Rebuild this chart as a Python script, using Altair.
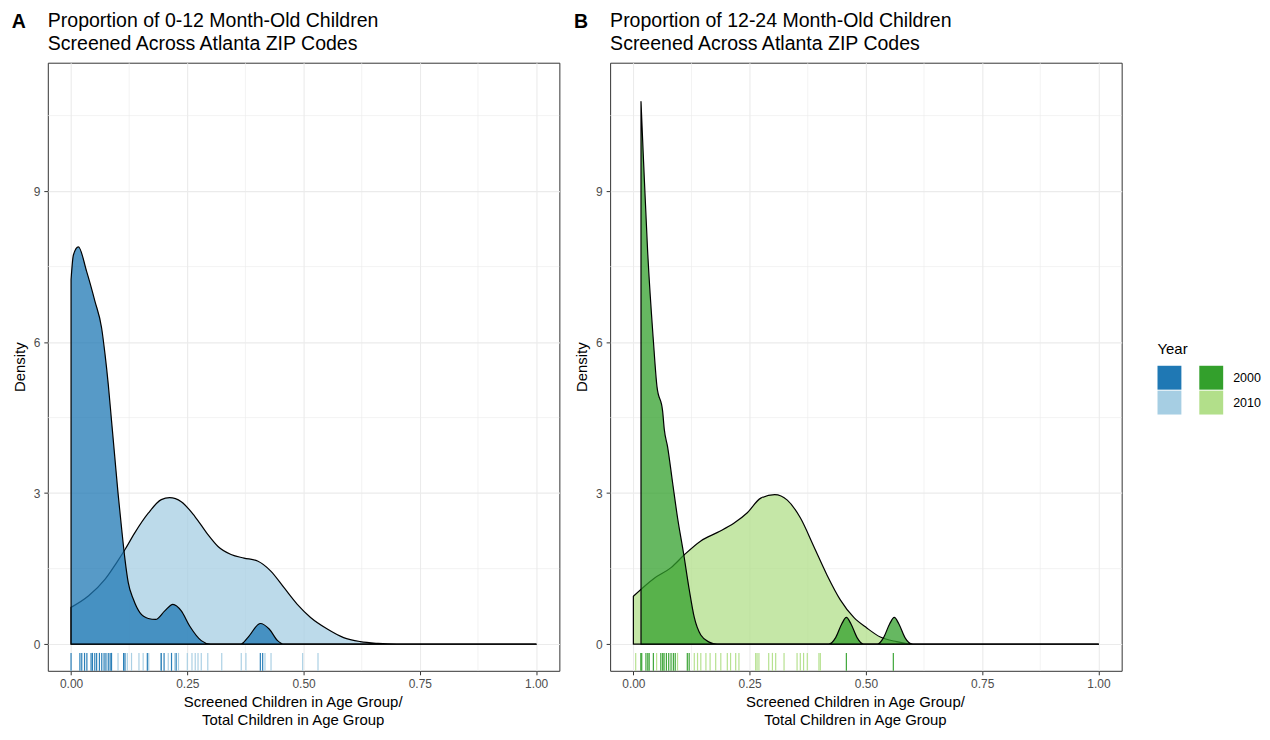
import altair as alt
import pandas as pd

FONT = "Liberation Sans"

# ---------------- data ----------------
# Panel A: 0-12 month-old children
a2000_x = [0.0, 0.005, 0.0157, 0.0336, 0.0514, 0.0657, 0.073, 0.080, 0.087, 0.094, 0.101, 0.109,
           0.116, 0.123, 0.134, 0.148, 0.166, 0.182, 0.2015, 0.219, 0.237, 0.255, 0.28, 0.30,
           0.365, 0.38, 0.407, 0.426, 0.444, 0.458, 1.0]
a2000_d = [7.24, 7.73, 7.89, 7.40, 6.81, 6.28, 5.76, 5.16, 4.44, 3.72, 3.00, 2.27,
           1.68, 1.22, 0.89, 0.625, 0.51, 0.49, 0.66, 0.79, 0.66, 0.36, 0.07, 0.0,
           0.0, 0.13, 0.41, 0.30, 0.07, 0.0, 0.0]
a2010_x = [0.0, 0.0378, 0.0733, 0.098, 0.116, 0.137, 0.166, 0.194, 0.212, 0.237, 0.266, 0.294,
           0.316, 0.344, 0.372, 0.401, 0.4295, 0.458, 0.4865, 0.515, 0.551, 0.586, 0.622, 0.66,
           0.70, 1.0]
a2010_d = [0.73, 0.96, 1.29, 1.62, 1.88, 2.21, 2.60, 2.87, 2.91, 2.83, 2.54, 2.18,
           1.94, 1.78, 1.71, 1.65, 1.45, 1.12, 0.79, 0.53, 0.30, 0.13, 0.05, 0.015,
           0.0, 0.0]
a2000_rug = [0.0, 0.019, 0.023, 0.029, 0.034, 0.043, 0.046, 0.051, 0.055, 0.061, 0.066, 0.071,
             0.075, 0.080, 0.084, 0.087, 0.113, 0.116, 0.164, 0.194, 0.200, 0.216, 0.226,
             0.407, 0.412]
a2010_rug = [0.101, 0.121, 0.13, 0.146, 0.155, 0.167, 0.193, 0.209, 0.223, 0.231, 0.25, 0.26,
             0.267, 0.273, 0.28, 0.294, 0.324, 0.366, 0.376, 0.417, 0.43, 0.498, 0.531]

# Panel B: 12-24 month-old children
b2000_x = [0.0164, 0.022, 0.0307, 0.0429, 0.0507, 0.0629, 0.0664, 0.0736, 0.0843, 0.095,
           0.108, 0.12, 0.131, 0.145, 0.163, 0.18, 0.42, 0.435, 0.448, 0.458, 0.468, 0.481,
           0.495, 0.525, 0.538, 0.551, 0.561, 0.571, 0.584, 0.60, 1.0]
b2000_d = [10.78, 9.57, 7.80, 6.04, 5.12, 4.63, 4.27, 3.92, 3.21, 2.51,
           1.80, 1.09, 0.53, 0.18, 0.04, 0.0, 0.0, 0.13, 0.40, 0.53, 0.40, 0.13,
           0.0, 0.0, 0.13, 0.40, 0.53, 0.40, 0.13, 0.0, 0.0]
b2010_x = [0.0, 0.045, 0.081, 0.109, 0.145, 0.181, 0.216, 0.245, 0.274, 0.304, 0.331, 0.359,
           0.388, 0.416, 0.445, 0.474, 0.502, 0.531, 0.566, 0.602, 1.0]
b2010_d = [0.95, 1.31, 1.52, 1.77, 2.05, 2.22, 2.40, 2.61, 2.90, 2.97, 2.86, 2.51,
           1.94, 1.38, 0.88, 0.53, 0.32, 0.14, 0.05, 0.0, 0.0]
b2000_rug = [0.016, 0.018, 0.027, 0.031, 0.034, 0.043, 0.059, 0.063, 0.066, 0.071, 0.076,
             0.081, 0.086, 0.09, 0.116, 0.12, 0.458, 0.559]
b2010_rug = [0.005, 0.05, 0.095, 0.131, 0.138, 0.145, 0.156, 0.165, 0.177, 0.188, 0.202,
             0.209, 0.22, 0.227, 0.263, 0.266, 0.27, 0.291, 0.299, 0.306, 0.324, 0.352,
             0.359, 0.366, 0.374, 0.399, 0.402]

keys = ["b2000", "b2010", "g2000", "g2010"]
colors = ["#1F78B4", "#A6CEE3", "#33A02C", "#B2DF8A"]

major_x = [0, 0.25, 0.5, 0.75, 1.0]
minor_x = [0.125, 0.375, 0.625, 0.875]
major_y = [0, 3, 6, 9]
minor_y = [1.5, 4.5, 7.5, 10.5]

tags = ["A", "B"]
titles = {
    "A": ["Proportion of 0-12 Month-Old Children", "Screened Across Atlanta ZIP Codes"],
    "B": ["Proportion of 12-24 Month-Old Children", "Screened Across Atlanta ZIP Codes"],
}
x_title = ["Screened Children in Age Group/", "Total Children in Age Group"]
y_title = "Density"
legend_title = "Year"
legend_years = ["2000", "2010"]

W, H = 514, 611
RUG = 18
TITLE_SIZE = 19.6

cscale = alt.Scale(domain=keys, range=colors)
xs = alt.Scale(domain=[-0.05, 1.05], nice=False, zero=False)
ys = alt.Scale(domain=[-0.53, 11.55], nice=False, zero=False)

x_axis = alt.Axis(values=major_x, format=".2f", title=x_title, grid=True, gridColor="#EBEBEB",
                  gridWidth=1.1, domain=False, tickColor="#333333", tickSize=4, tickWidth=1,
                  labelFontSize=12, labelColor="#4D4D4D", labelPadding=4, labelFont=FONT,
                  titleFont=FONT, titleFontSize=15, titleFontWeight="normal", titleColor="black",
                  titlePadding=5, titleLineHeight=18, titleX=W / 2 - 11, titleAlign="center")
y_axis = alt.Axis(values=major_y, format="d", title=y_title, grid=True, gridColor="#EBEBEB",
                  gridWidth=1.1, domain=False, tickColor="#333333", tickSize=4, tickWidth=1,
                  labelFontSize=12, labelColor="#4D4D4D", labelPadding=4, labelFont=FONT,
                  titleFont=FONT, titleFontSize=15, titleFontWeight="normal", titleColor="black",
                  titlePadding=6)


def panel(tag, curves, rugs):
    layers = []
    gx = pd.DataFrame({"v": minor_x})
    gy = pd.DataFrame({"v": minor_y})
    layers.append(alt.Chart(gx).mark_rule(color="#EBEBEB", strokeWidth=0.6).encode(
        x=alt.X("v:Q", scale=xs, axis=x_axis)))
    layers.append(alt.Chart(gy).mark_rule(color="#EBEBEB", strokeWidth=0.6).encode(
        y=alt.Y("v:Q", scale=ys, axis=y_axis)))
    for key, xv, dv in curves:
        df = pd.DataFrame({"x": xv, "d": dv, "key": key})
        layers.append(alt.Chart(df).mark_area(
            stroke="black", strokeWidth=1.2, fillOpacity=0.75, strokeOpacity=1,
            interpolate="monotone", strokeJoin="round").encode(
            x=alt.X("x:Q", scale=xs, axis=x_axis),
            y=alt.Y("d:Q", scale=ys, axis=y_axis, stack=None),
            y2=alt.datum(0),
            color=alt.Color("key:N", scale=cscale, legend=None)))
    for key, xv in rugs:
        df = pd.DataFrame({"x": xv, "key": key})
        layers.append(alt.Chart(df).mark_rule(strokeWidth=1.2, opacity=0.95).encode(
            x=alt.X("x:Q", scale=xs, axis=x_axis),
            y=alt.value(H - RUG), y2=alt.value(H),
            color=alt.Color("key:N", scale=cscale, legend=None)))
    inner = alt.layer(*layers).properties(
        width=W, height=H,
        view=alt.ViewBackground(stroke="#333333", strokeWidth=1),
        title=alt.Title(titles[tag], anchor="start", frame="group", fontSize=TITLE_SIZE,
                        fontWeight="normal", color="black", lineHeight=23, offset=8,
                        font=FONT))
    # the bold panel tag, set beside the first title line
    return alt.hconcat(inner, title=alt.Title(
        tag, anchor="start", frame="bounds", fontSize=TITLE_SIZE, fontWeight="bold",
        color="black", offset=-22, font=FONT))


pa = panel(tags[0], [("b2010", a2010_x, a2010_d), ("b2000", a2000_x, a2000_d)],
           [("b2010", a2010_rug), ("b2000", a2000_rug)])
pb = panel(tags[1], [("g2010", b2010_x, b2010_d), ("g2000", b2000_x, b2000_d)],
           [("g2010", b2010_rug), ("g2000", b2000_rug)])

leg_df = pd.DataFrame({
    "col": ["b", "g", "b", "g"],
    "year": [legend_years[0], legend_years[0], legend_years[1], legend_years[1]],
    "key": ["b2000", "g2000", "b2010", "g2010"],
})
lx = alt.X("col:N", axis=None, scale=alt.Scale(paddingInner=0.4286, paddingOuter=0))
ly = alt.Y("year:N", axis=None,
           scale=alt.Scale(paddingInner=0.04, paddingOuter=0.2, align=0))
leg_rect = alt.Chart(leg_df).mark_rect().encode(
    x=lx, y=ly, color=alt.Color("key:N", scale=cscale, legend=None))
leg_text = alt.Chart(leg_df[leg_df["col"] == "g"]).mark_text(
    align="left", baseline="middle", dx=22, fontSize=12.5, font=FONT, color="black").encode(
    x=lx, y=ly, text="year:N")
legend = alt.layer(leg_rect, leg_text).properties(
    width=66, height=59,
    view=alt.ViewBackground(stroke="transparent"),
    title=alt.Title(legend_title, anchor="start", frame="group", fontSize=15,
                    fontWeight="normal", color="black", offset=9, font=FONT))

chart = alt.hconcat(alt.hconcat(pa, pb, spacing=13), legend, spacing=34, center=True).properties(
    padding={"left": 3, "top": 0, "right": 0, "bottom": 0}
).configure_view(stroke="transparent").configure(font=FONT, background="white")

chart.save("out.html", embed_options={"renderer": "svg", "actions": False})
